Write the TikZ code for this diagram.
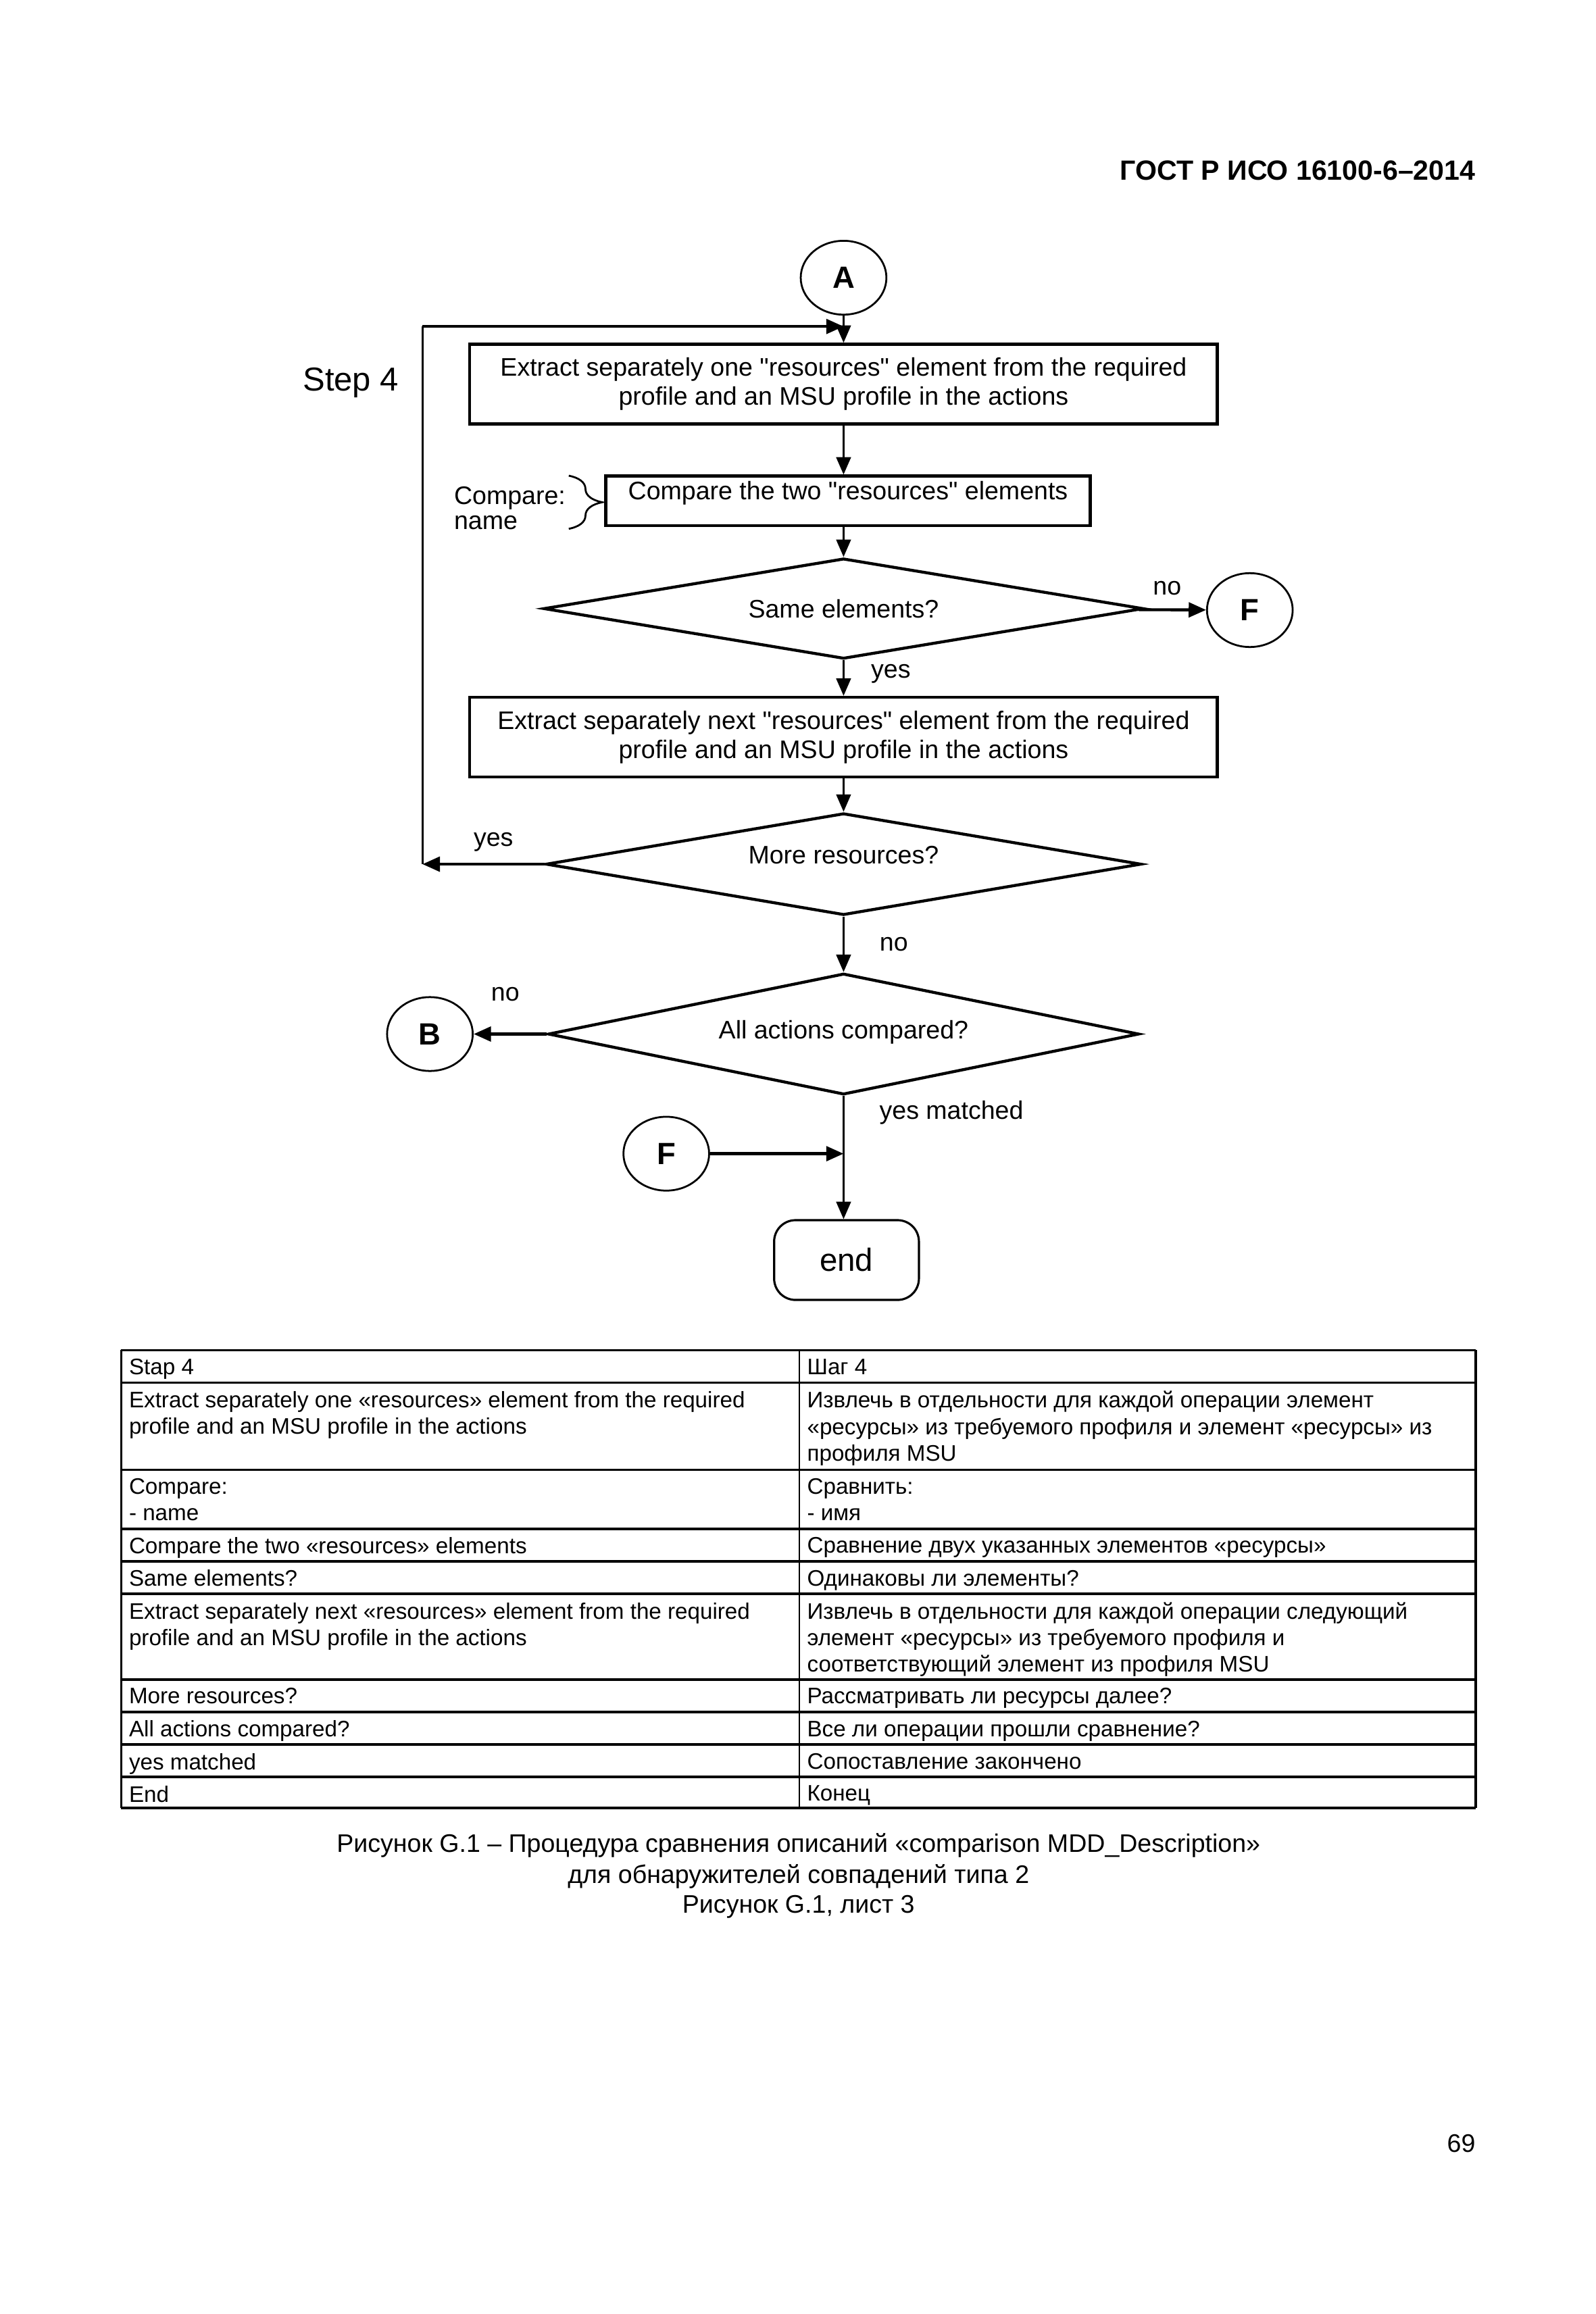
\documentclass[tikz,border=0pt]{standalone}
\usepackage{fontspec}
\setmainfont{Liberation Sans}[Ligatures=TeXOff]
\usetikzlibrary{shapes.geometric,arrows.meta,decorations.pathreplacing}
\newlength{\pu}
\setlength{\pu}{0.19441mm}
\begin{document}
\begin{tikzpicture}[x=0.19441mm,y=-0.19441mm,
  >={Triangle[length=6.5pt,width=5.5pt]},
  every node/.style={inner sep=0pt},
  txt/.style={font=\fontsize{9.5}{11}\selectfont},
  box/.style={draw,line width=1.1pt,rectangle,align=center,txt},
  dec/.style={draw,line width=1.1pt,diamond,aspect=6,txt},
  conn/.style={draw,ellipse,line width=0.7pt,minimum width=58*\pu,minimum height=50*\pu,font=\fontsize{11.5}{13}\selectfont\bfseries},
  cell/.style={anchor=north west,align=left,font=\fontsize{8.4}{9.9}\selectfont},
  arr/.style={line width=0.6pt,->},
  harr/.style={line width=1.1pt,->}]
\useasboundingbox (0,0) rectangle (1080.2,1566.5);
\fill[white] (0,0) rectangle (1080.2,1566.5);

\node[font=\fontsize{10.4}{12}\selectfont\bfseries,anchor=base east] (hdr) at (999,122) {ГОСТ Р ИСО 16100-6–2014};

\node[conn] (A) at (571,188) {A};
\node[font=\fontsize{12.4}{14}\selectfont] (step) at (237.5,259) {Step 4};
\node[box,minimum width=506*\pu,minimum height=54*\pu] (ext1) at (571,260) {Extract separately one "resources" element from the required\\profile and an MSU profile in the actions};
\node[box,minimum width=328*\pu,minimum height=33.5*\pu,text depth=7.5pt] (cmp) at (574,339) {Compare the two "resources" elements};
\node[txt,align=left,anchor=west,font=\fontsize{9.5}{9.3}\selectfont] (cmpnote) at (307,344) {Compare:\\name};
\coordinate (brT) at (385,322);
\coordinate (brB) at (385,358);
\node[dec,minimum width=406*\pu,minimum height=68*\pu] (same) at (571,412) {Same elements?};
\node[conn] (F1) at (846,413) {F};
\node[box,minimum width=506*\pu,minimum height=54*\pu] (ext2) at (571,499) {Extract separately next "resources" element from the required\\profile and an MSU profile in the actions};
\node[dec,minimum width=403*\pu,minimum height=69*\pu,text depth=6.7pt] (more) at (571,585) {More resources?};
\node[dec,minimum width=400*\pu,minimum height=82*\pu,text depth=3.4pt] (all) at (571,700) {All actions compared?};
\node[conn] (B) at (291,700) {B};
\node[conn] (F2) at (451,781) {F};
\node[draw,line width=0.8pt,rounded corners=8pt,minimum width=98*\pu,minimum height=54*\pu,font=\fontsize{12}{14}\selectfont] (end) at (573,853) {end};

\node[txt] (no1) at (790,398) {no};
\node[txt] (yes1) at (603,456) {yes};
\node[txt] (yes2) at (334,570) {yes};
\node[txt] (no2) at (605,639) {no};
\node[txt] (no3) at (342,673) {no};
\node[txt] (ym) at (644,753) {yes matched};

\coordinate (backL) at (286,585);
\coordinate (backT) at (286,221);
\coordinate (join) at (571,221);
\coordinate (merge) at (all.south |- F2.east);

\draw[arr] (A) -- (ext1);
\draw[arr] (ext1.south) -- (ext1.south |- cmp.north);
\draw[arr] (ext1.south |- cmp.south) -- (same);
\draw[line width=0.7pt,decorate,decoration={brace,amplitude=12.5pt}] (brT) -- (brB);
\draw[harr] (same) -- (F1);
\draw[arr] (same) -- (ext2);
\draw[arr] (ext2) -- (more);
\draw[harr] (more.west) -- (backL);
\draw[line width=0.6pt] (backL) -- (backT);
\draw[harr] (backT) -- (join);
\draw[arr] (more) -- (all);
\draw[harr] (all.west) -- (B);
\draw[arr] (all.south) -- (all.south |- end.north);
\draw[harr] (F2) -- (merge);

\foreach \yy in {914,936,995,1035,1057,1079,1137,1159,1181,1203,1224}
  \draw[line width=0.9pt] (82,\yy) -- (999,\yy);
\draw[line width=0.9pt] (82,914) -- (82,1224) (999,914) -- (999,1224);
\draw[line width=0.6pt] (541,914) -- (541,1224);

\foreach \ry/\en/\ru [count=\i] in {
  914/{Stap 4}/{Шаг 4},
  936/{Extract separately one «resources» element from the required\\profile and an MSU profile in the actions}/{Извлечь в отдельности для каждой операции элемент\\«ресурсы» из требуемого профиля и элемент «ресурсы» из\\профиля MSU},
  995/{Compare:\\- name}/{Сравнить:\\- имя},
  1035/{Compare the two «resources» elements}/{Сравнение двух указанных элементов «ресурсы»},
  1057/{Same elements?}/{Одинаковы ли элементы?},
  1079/{Extract separately next «resources» element from the required\\profile and an MSU profile in the actions}/{Извлечь в отдельности для каждой операции следующий\\элемент «ресурсы» из требуемого профиля и\\соответствующий элемент из профиля MSU},
  1137/{More resources?}/{Рассматривать ли ресурсы далее?},
  1159/{All actions compared?}/{Все ли операции прошли сравнение?},
  1181/{yes matched}/{Сопоставление закончено},
  1203/{End}/{Конец}}
{
  \node[cell] (en\i) at (87,\ry+5.5) {\en};
  \node[cell] (ru\i) at (546,\ry+5.5) {\ru};
}

\node[txt,anchor=base] (cap1) at (540.5,1254) {Рисунок G.1 – Процедура сравнения описаний «comparison MDD\_Description»};
\node[txt,anchor=base] (cap2) at (540.5,1275) {для обнаружителей совпадений типа 2};
\node[txt,anchor=base] (cap3) at (540.5,1295) {Рисунок G.1, лист 3};
\node[txt,anchor=base east] (pg) at (999,1457) {69};
\end{tikzpicture}
\end{document}
